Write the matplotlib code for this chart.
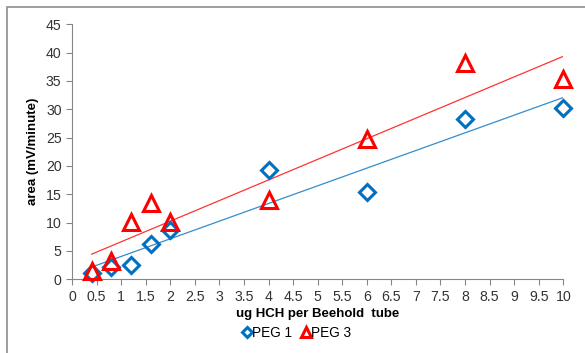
import numpy as np
import matplotlib
matplotlib.use('Agg')
import matplotlib.pyplot as plt
from matplotlib.patches import Rectangle

plt.rcParams['font.family'] = ['Liberation Sans', 'DejaVu Sans']

# data
x_ug = [0.4, 0.8, 1.2, 1.6, 2, 4, 6, 8, 10]
peg1 = [1.2, 2.2, 2.5, 6.3, 8.7, 19.3, 15.4, 28.3, 30.3]
peg3 = [1.5, 3.3, 10.1, 13.4, 10.1, 14.0, 24.7, 38.1, 35.3]

blue = '#0070C0'
red = '#FF0000'

fig = plt.figure(figsize=(5.85, 3.53), dpi=100)
ax = fig.add_axes([72/585, 1 - 279.3/353, (563.3-72)/585, (279.3-24.3)/353])

# chart border (left/top visible in reference)
fig.patches.append(Rectangle((6.5/585, -0.05), 1.2, 1 - 6.5/353 + 0.05,
                             transform=fig.transFigure, fill=False,
                             edgecolor='#8c8c8c', lw=1.2))

x = np.array(x_ug)
for y, c in [(peg1, blue), (peg3, red)]:
    k, m = np.polyfit(x, y, 1)
    xx = np.array([x.min(), x.max()])
    ax.plot(xx, k*xx + m, color=c, lw=0.9, alpha=0.8, zorder=2)

ax.plot(x_ug, peg1, linestyle='none', marker='D', ms=8.5, mfc='none',
        mec=blue, mew=2.2, label='PEG 1', zorder=3, clip_on=False)
ax.plot(x_ug, peg3, linestyle='none', marker='^', ms=11, mfc='none',
        mec=red, mew=2.2, label='PEG 3', zorder=3, clip_on=False)

ax.set_xlim(0, 10)
ax.set_ylim(0, 45)
ax.set_xticks(np.arange(0, 10.01, 0.5))
ax.set_xticklabels(['%g' % v for v in np.arange(0, 10.01, 0.5)])
ax.set_yticks(np.arange(0, 46, 5))

for s in ['top', 'right']:
    ax.spines[s].set_visible(False)
for s in ['left', 'bottom']:
    ax.spines[s].set_color('#868686')
ax.tick_params(colors='#868686', labelcolor='#333333', labelsize=10.2,
               length=4, direction='out')

ax.set_xlabel('ug HCH per Beehold  tube', fontsize=9.5, fontweight='bold',
              va='center')
ax.xaxis.set_label_coords(0.5, (279.3 - 314) / 255)
ax.set_ylabel('area (mV/minute)', fontsize=9.5, fontweight='bold',
              va='center')
ax.yaxis.set_label_coords((33 - 72) / 491, 0.5)

fig.legend(*ax.get_legend_handles_labels(), loc='center',
           bbox_to_anchor=(297/585, 1 - 333/353), ncol=2,
           frameon=False, fontsize=9.8, handlelength=0.6, handletextpad=0.1,
           columnspacing=0.7, markerscale=0.6)

fig.savefig('out.png', dpi=100)
